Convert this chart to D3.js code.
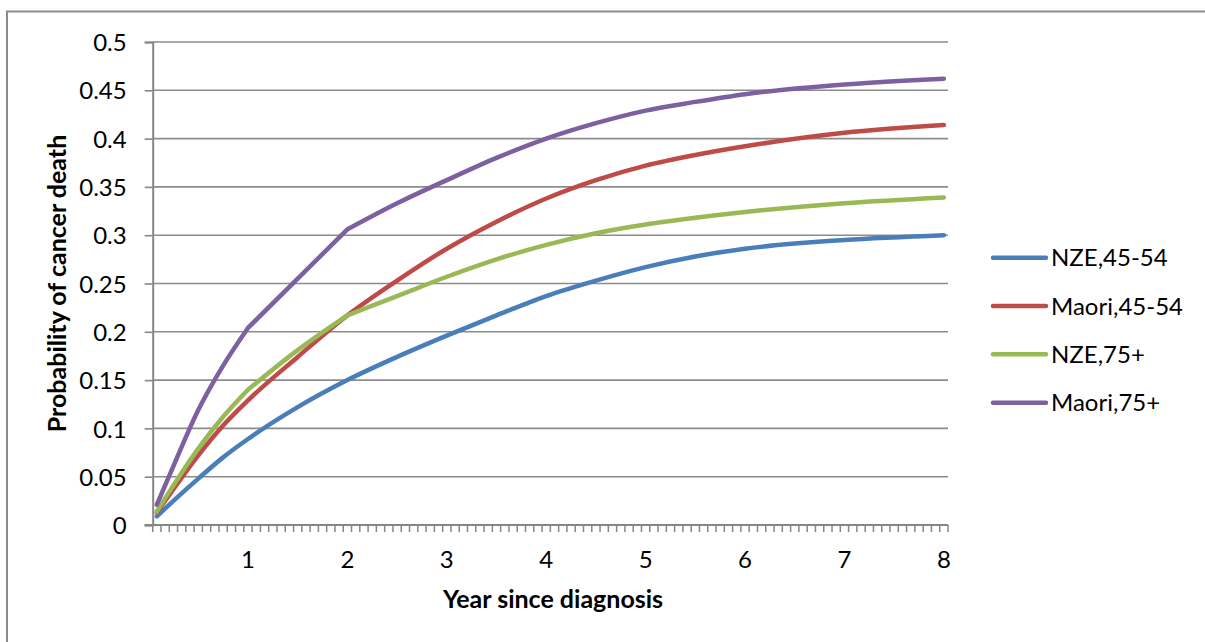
<!DOCTYPE html>
<html>
<head>
<meta charset="utf-8">
<script src="https://cdn.jsdelivr.net/npm/d3@7"></script>
<style>
  html, body { margin: 0; padding: 0; background: #fff; }
  svg { display: block; }
  text { font-family: Lato, "Open Sans", sans-serif; fill: #000; }
</style>
</head>
<body>
<svg id="chart" width="1205" height="642"></svg>
<script>
// Cumulative probability of cancer death by month since diagnosis
const months = [1, 3, 6, 9, 12, 18, 24, 30, 36, 42, 48, 54, 60, 66, 72, 84, 96];
const nze4554   = [0.009, 0.025, 0.048, 0.070, 0.089, 0.122, 0.150, 0.174, 0.196, 0.217, 0.237, 0.253, 0.267, 0.278, 0.286, 0.295, 0.300];
const maori4554 = [0.013, 0.037, 0.072, 0.103, 0.129, 0.174, 0.217, 0.253, 0.286, 0.314, 0.338, 0.357, 0.372, 0.383, 0.392, 0.406, 0.414];
const nze75     = [0.014, 0.041, 0.079, 0.112, 0.140, 0.181, 0.217, 0.237, 0.257, 0.275, 0.290, 0.302, 0.311, 0.318, 0.324, 0.333, 0.339];
const maori75   = [0.021, 0.061, 0.119, 0.165, 0.204, 0.255, 0.306, 0.333, 0.357, 0.380, 0.400, 0.416, 0.429, 0.438, 0.446, 0.456, 0.462];

// months where the 75+ curves change hazard sharply; smoothing is done piecewise there
const breaks4554 = [];
const breaks75   = [12, 24];

const seriesNames  = ["NZE,45-54", "Maori,45-54", "NZE,75+", "Maori,75+"];
const seriesValues = [nze4554, maori4554, nze75, maori75];
const seriesBreaks = [breaks4554, breaks4554, breaks75, breaks75];
const seriesColors = ["#4a7ebb", "#be4b48", "#98b954", "#7d60a0"];

const yTicks = [0, 0.05, 0.1, 0.15, 0.2, 0.25, 0.3, 0.35, 0.4, 0.45, 0.5];
const yearLabels = [1, 2, 3, 4, 5, 6, 7, 8];
const monthCount = 96;

const svg = d3.select("#chart");

// outer chart frame (left and top edges)
svg.append("path")
  .attr("d", "M7,642 V11.5 H1205")
  .attr("fill", "none").attr("stroke", "#8c8c8c").attr("stroke-width", 2);

const plotL = 152.7, plotR = 948, plotT = 42, plotB = 525;

// one band per month, Excel-style category axis
const allMonths = d3.range(1, monthCount + 1);
const x = d3.scaleBand().domain(allMonths).range([plotL, plotR]).padding(0);
const xc = m => x(m) + x.bandwidth() / 2;
const y = d3.scaleLinear().domain([0, 0.5]).range([plotB, plotT]);

// horizontal gridlines
svg.append("g").selectAll("line").data(yTicks.filter(d => d > 0)).join("line")
  .attr("x1", plotL).attr("x2", plotR)
  .attr("y1", d => y(d)).attr("y2", d => y(d))
  .attr("stroke", "#8c8c8c").attr("stroke-width", 1.6);

// y axis
const yAxis = d3.axisLeft(y).tickValues(yTicks).tickSize(8).tickPadding(18)
  .tickFormat(d => String(+d.toFixed(2)));
const gy = svg.append("g").attr("transform", `translate(${plotL},0)`).call(yAxis);
gy.select(".domain").attr("stroke", "#868686").attr("stroke-width", 2);
gy.selectAll(".tick line").attr("stroke", "#868686").attr("stroke-width", 1.6);
gy.selectAll(".tick text").attr("font-size", 24).attr("font-family", "Lato")
  .attr("fill", "#000").attr("dy", "0.36em");

// x axis: tick marks on month boundaries, labels at year ends
const boundaries = d3.range(0, monthCount + 1);
const bx = i => plotL + i * x.bandwidth();
svg.append("line").attr("x1", plotL - 8).attr("x2", plotR)
  .attr("y1", plotB).attr("y2", plotB)
  .attr("stroke", "#868686").attr("stroke-width", 2);
svg.append("g").selectAll("line").data(boundaries).join("line")
  .attr("x1", d => bx(d)).attr("x2", d => bx(d))
  .attr("y1", plotB).attr("y2", plotB + 7)
  .attr("stroke", "#868686").attr("stroke-width", 1.5);
svg.append("g").selectAll("text").data(yearLabels).join("text")
  .attr("x", d => xc(d * 12)).attr("y", 568)
  .attr("text-anchor", "middle").attr("font-size", 24)
  .text(d => d);

// series lines
const line = d3.line().x(d => xc(d[0])).y(d => y(d[1])).curve(d3.curveMonotoneX);
seriesValues.forEach((vals, i) => {
  const pts = months.map((m, j) => [m, vals[j]]);
  const cuts = [months[0], ...seriesBreaks[i], months[months.length - 1]];
  const d = d3.pairs(cuts)
    .map(([a, b]) => line(pts.filter(p => p[0] >= a && p[0] <= b)))
    .join("");
  svg.append("path")
    .attr("d", d)
    .attr("fill", "none")
    .attr("stroke", seriesColors[i])
    .attr("stroke-width", 4.5)
    .attr("stroke-linecap", "round")
    .attr("stroke-linejoin", "round");
});

// axis titles
svg.append("text").attr("x", 553).attr("y", 608)
  .attr("text-anchor", "middle").attr("font-size", 25).attr("font-weight", "bold")
  .text("Year since diagnosis");
svg.append("text")
  .attr("transform", "translate(66,283.5) rotate(-90)")
  .attr("text-anchor", "middle").attr("font-size", 25).attr("font-weight", "bold")
  .text("Probability of cancer death");

// legend
const legendRows = [257.7, 306, 354.3, 402.7];
const lg = svg.append("g");
seriesNames.forEach((name, i) => {
  lg.append("line").attr("x1", 993).attr("x2", 1046)
    .attr("y1", legendRows[i]).attr("y2", legendRows[i])
    .attr("stroke", seriesColors[i]).attr("stroke-width", 4.5)
    .attr("stroke-linecap", "round");
  lg.append("text").attr("x", 1051).attr("y", legendRows[i] + 8.5)
    .attr("font-size", 24).text(name);
});
</script>
</body>
</html>
